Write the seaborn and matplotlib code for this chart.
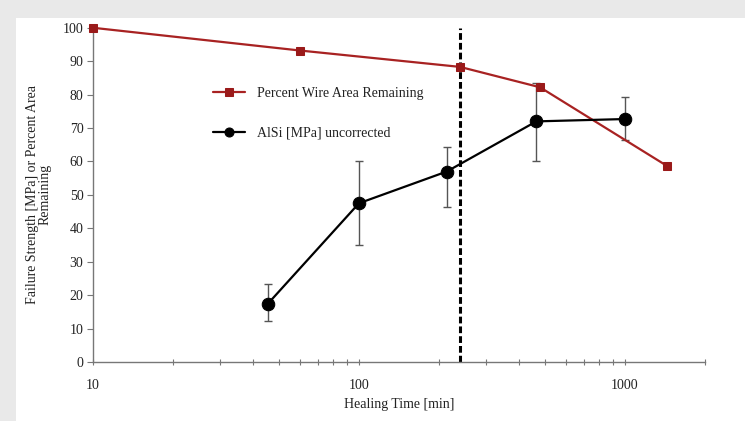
import numpy as np
import pandas as pd
import matplotlib
matplotlib.use("Agg")
import matplotlib.pyplot as plt
import seaborn as sns
from matplotlib.patches import Rectangle
from matplotlib.ticker import LogLocator, NullFormatter, FixedLocator

# ==========================================
# DADOS
# ==========================================
area_tempo = [10, 60, 240, 480, 1440]
area_pct = [100, 93.2, 88.3, 82.2, 58.7]

alsi_tempo = [45.5, 100, 214, 465, 1000]
alsi_mpa = [17.5, 47.5, 57.0, 72.0, 72.7]
alsi_min = [12.3, 35.0, 46.3, 60.2, 66.5]
alsi_max = [23.3, 60.0, 64.4, 83.5, 79.3]

linha_corte = 240

rotulo_area = "Percent Wire Area Remaining"
rotulo_alsi = "AlSi [MPa] uncorrected"

df_area = pd.DataFrame({"tempo": area_tempo, "valor": area_pct})
df_alsi = pd.DataFrame({"tempo": alsi_tempo, "valor": alsi_mpa})

# ==========================================
# ESTILO
# ==========================================
sns.set_theme(style="white")
plt.rcParams["font.family"] = ["Liberation Serif", "DejaVu Serif"]

fig = plt.figure(figsize=(7.45, 4.21), dpi=100)
fig.patch.set_facecolor("#e9e9e9")
fig.patches.append(Rectangle((0.021, 0.0), 0.979, 0.957, transform=fig.transFigure,
                             facecolor="white", edgecolor="none", zorder=-10))
ax = fig.add_axes([0.125, 0.140, 0.821, 0.794])
ax.set_facecolor("white")

vermelho = "#A82222"
vermelho_marc = "#9A1A1A"

# linha vertical tracejada
ax.axvline(linha_corte, color="black", linewidth=2.2, linestyle=(0, (2.2, 1.0)), zorder=2)

# barras de erro (AlSi)
yerr = np.array([np.array(alsi_mpa) - np.array(alsi_min),
                 np.array(alsi_max) - np.array(alsi_mpa)])
ax.errorbar(alsi_tempo, alsi_mpa, yerr=yerr, fmt="none", ecolor="#555555",
            elinewidth=1.0, capsize=3, capthick=1.0, zorder=3)

sns.lineplot(data=df_area, x="tempo", y="valor", ax=ax, color=vermelho, linewidth=1.6,
             marker="s", markersize=6, markerfacecolor=vermelho_marc,
             markeredgecolor=vermelho_marc, label=rotulo_area, zorder=4, clip_on=False)
sns.lineplot(data=df_alsi, x="tempo", y="valor", ax=ax, color="black", linewidth=1.6,
             marker="o", markersize=9, markerfacecolor="black",
             markeredgecolor="black", label=rotulo_alsi, zorder=5)

ax.set_xscale("log")
ax.set_xlim(10, 2000)
ax.set_ylim(0, 100)
ax.set_yticks(np.arange(0, 101, 10))
ax.xaxis.set_major_locator(FixedLocator([10, 100, 1000]))
ax.set_xticklabels(["10", "100", "1000"])
ax.xaxis.set_minor_locator(LogLocator(base=10, subs=np.arange(2, 10)))
ax.xaxis.set_minor_formatter(NullFormatter())

for lado in ["top", "right"]:
    ax.spines[lado].set_visible(False)
for lado in ["left", "bottom"]:
    ax.spines[lado].set_color("#777777")
    ax.spines[lado].set_linewidth(1.0)

ax.tick_params(axis="y", which="major", direction="out", length=4, width=0.8,
               color="#777777", labelsize=10, pad=3, left=True, labelcolor="#222222")
ax.tick_params(axis="x", which="major", direction="inout", length=5, width=0.8,
               color="#777777", labelsize=10, pad=10, bottom=True, labelcolor="#222222")
ax.tick_params(axis="x", which="minor", direction="inout", length=4, width=0.8,
               color="#777777", bottom=True)

ax.set_xlabel("Healing Time [min]", fontsize=10, labelpad=4, color="#222222")
ax.set_ylabel("Failure Strength [MPa] or Percent Area\nRemaining", fontsize=10,
              labelpad=8, linespacing=0.95, color="#222222")

leg = ax.legend(loc="upper left", bbox_to_anchor=(0.175, 0.86), frameon=False, fontsize=10,
                labelspacing=1.9, handlelength=2.3, handletextpad=0.9)
for h, ms in zip(leg.get_lines(), [5.5, 6.5]):
    h.set_markersize(ms)
for t in leg.get_texts():
    t.set_color("#222222")

fig.savefig("out.png", dpi=100, facecolor=fig.get_facecolor())
